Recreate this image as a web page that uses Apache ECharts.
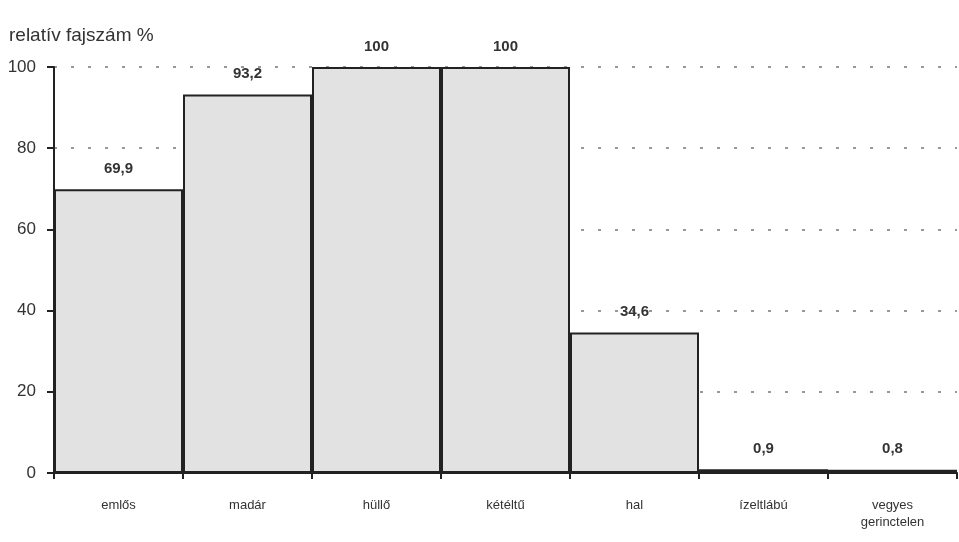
<!DOCTYPE html>
<html><head><meta charset="utf-8">
<script src="https://cdn.jsdelivr.net/npm/echarts@6/dist/echarts.min.js"></script>
<style>html,body{margin:0;padding:0;background:#fff}#c{width:959px;height:542px}</style>
</head><body><div id="c"></div>
<script>
const categories = ['emlős','madár','hüllő','kétéltű','hal','ízeltlábú','vegyes\ngerinctelen'];
const values = [69.9, 93.2, 100, 100, 34.6, 0.9, 0.8];
const yTicks = [0, 20, 40, 60, 80, 100];
const yTitle = 'relatív fajszám %';

const chart = echarts.init(document.getElementById('c'));
chart.setOption({
  animation: false,
  backgroundColor: '#fff',
  title: {
    text: yTitle, left: 4, top: 21,
    textStyle: {fontFamily: 'Liberation Sans, Arial', fontSize: 19, fontWeight: 'normal', color: '#333'}
  },
  grid: {left: 54, right: 2, top: 67, bottom: 69},
  xAxis: {
    type: 'category', data: categories, boundaryGap: true,
    axisLine: {lineStyle: {color: '#222', width: 2}},
    axisTick: {show: true, alignWithLabel: false, length: 6, lineStyle: {color: '#222', width: 2}},
    axisLabel: {margin: 24, fontFamily: 'Liberation Sans, Arial', fontSize: 13, color: '#333', lineHeight: 17, interval: 0}
  },
  yAxis: {
    type: 'value', min: 0, max: 100, interval: 20,
    axisLine: {show: true, lineStyle: {color: '#222', width: 2}},
    axisTick: {show: true, length: 7, lineStyle: {color: '#222', width: 2}},
    axisLabel: {margin: 18, fontFamily: 'Liberation Sans, Arial', fontSize: 17, color: '#333',
      formatter: v => yTicks.includes(v) ? String(v) : ''},
    splitLine: {show: true, lineStyle: {color: '#777', type: [3, 14], width: 1.5}}
  },
  series: [{
    type: 'bar', data: values, barCategoryGap: '0%',
    itemStyle: {color: '#e2e2e2', borderColor: '#222', borderWidth: 2},
    label: {
      show: true, position: 'top', distance: 13,
      fontFamily: 'Liberation Sans, Arial', fontSize: 15, fontWeight: 'bold', color: '#333',
      formatter: p => String(p.value).replace('.', ',')
    }
  }]
});
</script></body></html>
